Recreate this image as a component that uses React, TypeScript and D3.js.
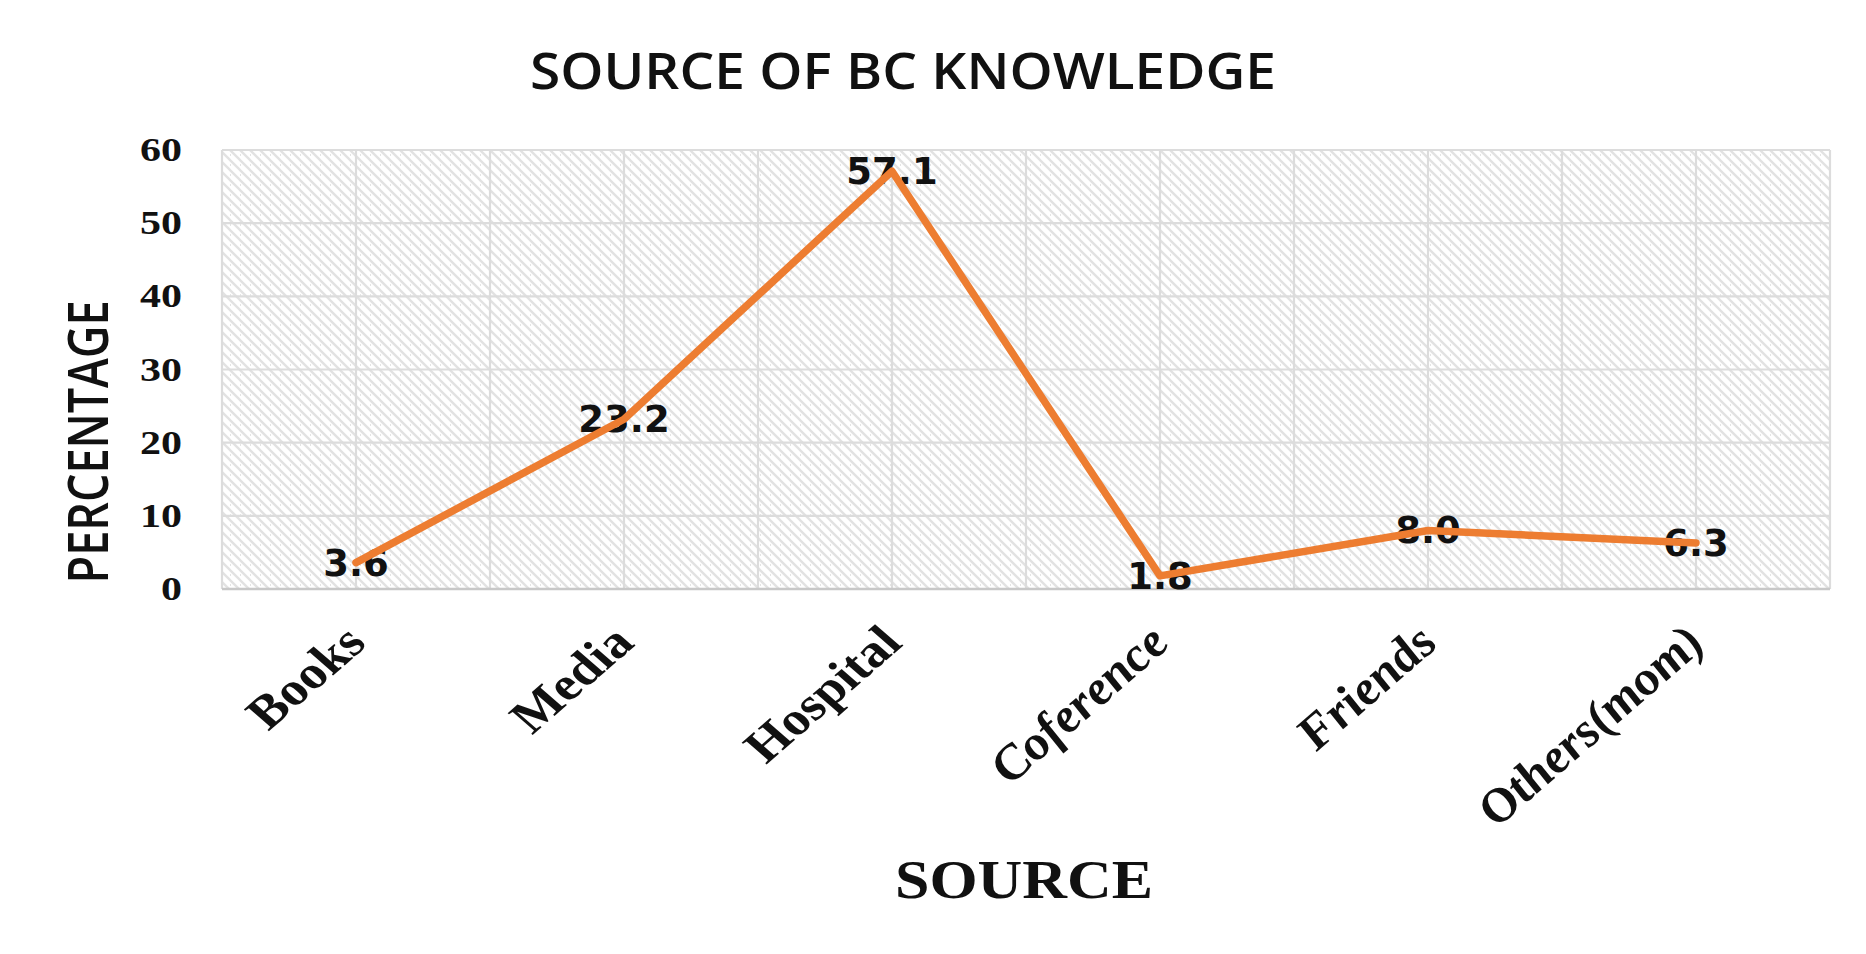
import React from "react";
import * as d3 from "d3";

const title = "SOURCE OF BC KNOWLEDGE";
const xTitle = "SOURCE";
const yTitle = "PERCENTAGE";
const categories = ["Books", "Media", "Hospital", "Coference", "Friends", "Others(mom)"];
const italicCategories = ["Coference", "Friends", "Others(mom)"];
const values = [3.6, 23.2, 57.1, 1.8, 8.0, 6.3];
const valueLabels = ["3.6", "23.2", "57.1", "1.8", "8.0", "6.3"];
const yTicks = [0, 10, 20, 30, 40, 50, 60];

const W = 1866;
const H = 954;
const plot = { left: 222, right: 1830, top: 150, bottom: 589 };
const ORANGE = "#ED7D31";
const GRID = "#dcdcdc";

export default function App() {
  const x = d3
    .scaleBand<string>()
    .domain(categories)
    .range([plot.left, plot.right])
    .paddingInner(0)
    .paddingOuter(0);
  const bw = x.bandwidth();
  const y = d3.scaleLinear().domain([0, 60]).range([plot.bottom, plot.top]);
  const cx = (c: string) => (x(c) as number) + bw / 2;

  const vLines: number[] = [];
  categories.forEach((c) => {
    vLines.push(x(c) as number);
    vLines.push(cx(c));
  });
  vLines.push(plot.right);

  const line = d3
    .line<number>()
    .x((_, i) => cx(categories[i]))
    .y((d) => y(d));

  return (
    <svg
      width={W}
      height={H}
      style={{ position: "absolute", left: 0, top: 0, background: "#fff" }}
    >
      <defs>
        <pattern id="hatch" width="10" height="10" patternUnits="userSpaceOnUse">
          <rect width="10" height="10" fill="#ffffff" />
          <path
            d="M-3,-3 L13,13 M-3,7 L3,13 M7,-3 L13,3"
            stroke="#e2e2e2"
            strokeWidth="2.3"
          />
          <circle cx="0" cy="5" r="0.9" fill="#d8d8d8" />
        </pattern>
      </defs>

      {/* title */}
      <text
        x={903}
        y={89}
        textAnchor="middle"
        fontFamily="'Open Sans', sans-serif"
        fontWeight={600}
        fontSize={50}
        textLength={746}
        lengthAdjust="spacingAndGlyphs"
        fill="#111"
      >
        {title}
      </text>

      {/* plot background */}
      <rect
        x={plot.left}
        y={plot.top}
        width={plot.right - plot.left}
        height={plot.bottom - plot.top}
        fill="url(#hatch)"
      />

      {/* gridlines */}
      {yTicks.map((t) => (
        <line
          key={"h" + t}
          x1={plot.left}
          x2={plot.right}
          y1={y(t)}
          y2={y(t)}
          stroke={GRID}
          strokeWidth={2.2}
        />
      ))}
      {vLines.map((v, i) => (
        <line
          key={"v" + i}
          x1={v}
          x2={v}
          y1={plot.top}
          y2={plot.bottom}
          stroke={GRID}
          strokeWidth={2.2}
        />
      ))}
      <line
        x1={plot.left}
        x2={plot.right}
        y1={plot.bottom}
        y2={plot.bottom}
        stroke="#c8c8c8"
        strokeWidth={2.5}
      />

      {/* y tick labels */}
      {yTicks.map((t) => {
        const s = String(t);
        return (
          <text
            key={"yt" + t}
            x={182}
            y={y(t) + 11}
            textAnchor="end"
            fontFamily="'Liberation Serif', 'Times New Roman', serif"
            fontWeight={700}
            fontSize={33}
            textLength={21 * s.length}
            lengthAdjust="spacingAndGlyphs"
            fill="#111"
          >
            {s}
          </text>
        );
      })}

      {/* y axis title */}
      <text
        transform={`translate(108, 442) scale(1.2, 1) rotate(-90)`}
        textAnchor="middle"
        fontFamily="'Open Sans', sans-serif"
        fontWeight={600}
        fontSize={46}
        textLength={283}
        lengthAdjust="spacingAndGlyphs"
        fill="#111"
      >
        {yTitle}
      </text>

      {/* x tick labels */}
      {categories.map((c) => (
        <text
          key={"xl" + c}
          transform={`translate(${cx(c) + 12}, 645) scale(1.15, 1) rotate(-45)`}
          textAnchor="end"
          fontFamily="'Liberation Serif', 'Times New Roman', serif"
          fontWeight={700}
          fontStyle={italicCategories.includes(c) ? "italic" : "normal"}
          fontSize={47}
          fill="#111"
        >
          {c}
        </text>
      ))}

      {/* x axis title */}
      <text
        x={1024}
        y={898}
        textAnchor="middle"
        fontFamily="'Liberation Serif', 'Times New Roman', serif"
        fontWeight={700}
        fontSize={54}
        textLength={258}
        lengthAdjust="spacingAndGlyphs"
        fill="#111"
      >
        {xTitle}
      </text>

      {/* data labels */}
      {values.map((v, i) => (
        <text
          key={"dl" + i}
          x={cx(categories[i])}
          y={y(v) + 13}
          textAnchor="middle"
          fontFamily="'DejaVu Sans', sans-serif"
          fontWeight={700}
          fontSize={37}
          fill="#111"
        >
          {valueLabels[i]}
        </text>
      ))}

      {/* line */}
      <path
        d={line(values) || ""}
        fill="none"
        stroke={ORANGE}
        strokeWidth={7.5}
        strokeLinejoin="round"
        strokeLinecap="round"
      />
    </svg>
  );
}
